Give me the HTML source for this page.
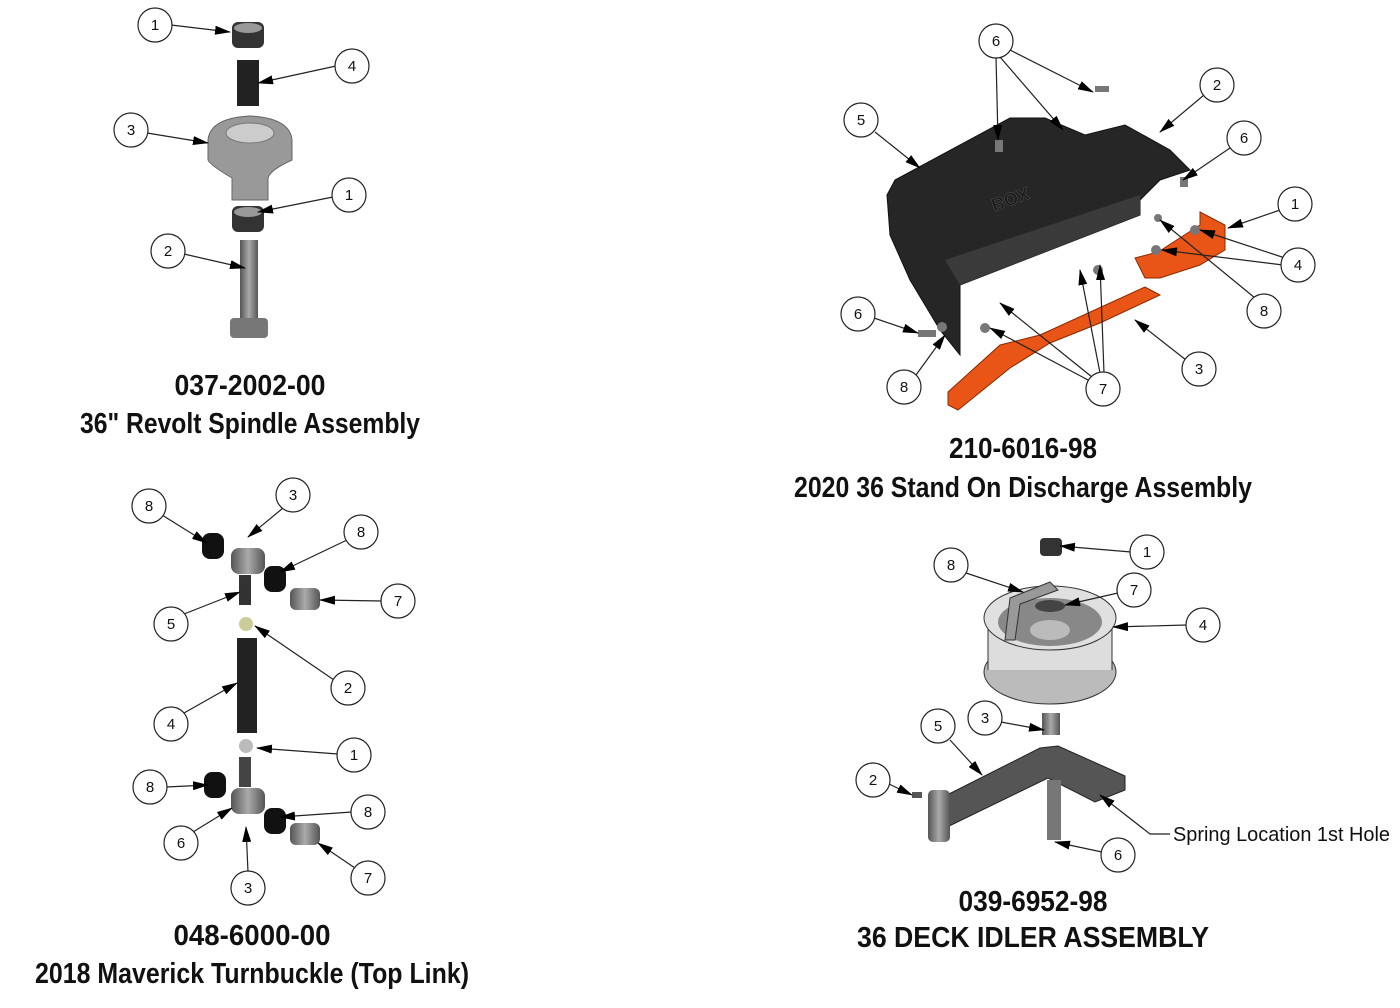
<!DOCTYPE html>
<html><head><meta charset="utf-8"><style>
html,body{margin:0;padding:0;background:#fff;}
svg{display:block}
.t{font-family:"Liberation Sans",sans-serif;font-weight:bold;fill:#111;text-anchor:middle}
.c circle{fill:#fff;stroke:#222;stroke-width:1.2}
.c text{font-family:"Liberation Sans",sans-serif;font-size:15px;text-anchor:middle;fill:#111}
.l{stroke:#222;stroke-width:1.2;fill:none;marker-end:url(#a)}
</style></head><body>
<svg width="1400" height="1008" viewBox="0 0 1400 1008" xmlns="http://www.w3.org/2000/svg">
<defs><marker id="a" markerWidth="16" markerHeight="9" refX="15" refY="4.5" orient="auto" markerUnits="userSpaceOnUse"><path d="M0,0 L16,4.5 L0,9 z" fill="#000"/></marker>
<linearGradient id="g" x1="0" x2="1"><stop offset="0" stop-color="#555"/><stop offset=".5" stop-color="#aaa"/><stop offset="1" stop-color="#555"/></linearGradient></defs>

<!-- Spindle -->
<rect x="232" y="22" width="32" height="26" rx="6" fill="#333"/><ellipse cx="248" cy="28" rx="14" ry="5" fill="#999"/>
<rect x="237" y="60" width="22" height="46" fill="#222"/>
<path d="M208,140 Q210,118 250,116 Q290,118 292,140 L292,160 Q270,170 268,178 L268,200 L232,200 L232,178 Q210,165 208,160z" fill="#999" stroke="#666"/>
<ellipse cx="250" cy="133" rx="24" ry="10" fill="#ccc" stroke="#777"/>
<rect x="232" y="206" width="32" height="26" rx="6" fill="#333"/><ellipse cx="248" cy="212" rx="14" ry="5" fill="#999"/>
<rect x="240" y="240" width="18" height="78" fill="url(#g)"/>
<rect x="230" y="318" width="38" height="20" rx="4" fill="#777"/>
<text class="t" x="250" y="395" font-size="29" textLength="151" lengthAdjust="spacingAndGlyphs">037-2002-00</text>
<text class="t" x="250" y="433" font-size="29" textLength="340" lengthAdjust="spacingAndGlyphs">36" Revolt Spindle Assembly</text>

<!-- Discharge -->
<path d="M887,195 L895,180 L1010,118 L1045,118 L1085,135 L1125,125 L1170,150 L1190,170 L1160,180 L1140,200 L1140,215 L960,285 L960,355 L940,330 L910,280 L890,235z" fill="#262626" stroke="#111"/>
<path d="M945,260 L1140,195 L1140,215 L960,285z" fill="#3a3a3a"/>
<text x="990" y="200" font-family="Liberation Sans" font-weight="bold" font-size="18" fill="#1a1a1a" stroke="#555" stroke-width=".5" transform="rotate(-20 990 200) scale(1,-1) translate(0,-400)">BOX</text>
<path d="M948,392 L1000,345 L1040,335 L1145,287 L1160,295 L1100,323 L1050,343 L1010,368 L958,410 L948,405z" fill="#e85516" stroke="#8a2a00"/>
<path d="M1135,258 L1158,252 L1200,225 L1200,212 L1225,225 L1225,250 L1200,265 L1160,278 L1145,278z" fill="#e85516" stroke="#8a2a00"/>
<g fill="#777"><rect x="995" y="140" width="8" height="12"/><rect x="1180" y="177" width="8" height="10"/><rect x="918" y="330" width="18" height="7"/><circle cx="942" cy="327" r="5"/><circle cx="985" cy="328" r="5"/><circle cx="1098" cy="270" r="5"/><circle cx="1195" cy="230" r="5"/><circle cx="1156" cy="250" r="5"/><circle cx="1158" cy="218" r="4"/><rect x="1095" y="86" width="14" height="6"/></g>
<text class="t" x="1023" y="458" font-size="29" textLength="148" lengthAdjust="spacingAndGlyphs">210-6016-98</text>
<text class="t" x="1023" y="497" font-size="29" textLength="458" lengthAdjust="spacingAndGlyphs">2020 36 Stand On Discharge Assembly</text>

<!-- Turnbuckle -->
<g fill="#111"><rect x="202" y="533" width="22" height="26" rx="8"/><rect x="264" y="566" width="22" height="26" rx="8"/><rect x="204" y="772" width="22" height="26" rx="8"/><rect x="264" y="808" width="22" height="26" rx="8"/></g>
<rect x="231" y="548" width="34" height="26" rx="8" fill="url(#g)"/>
<rect x="290" y="588" width="30" height="22" rx="6" fill="url(#g)"/>
<rect x="239" y="575" width="12" height="30" fill="#333"/>
<circle cx="246" cy="624" r="7" fill="#cc9"/>
<rect x="237" y="638" width="20" height="95" fill="#222"/>
<circle cx="246" cy="746" r="7" fill="#bbb"/>
<rect x="239" y="757" width="12" height="30" fill="#444"/>
<rect x="231" y="788" width="34" height="26" rx="8" fill="url(#g)"/>
<rect x="290" y="823" width="30" height="22" rx="6" fill="url(#g)"/>
<text class="t" x="252" y="945" font-size="29" textLength="157" lengthAdjust="spacingAndGlyphs">048-6000-00</text>
<text class="t" x="252" y="983" font-size="29" textLength="434" lengthAdjust="spacingAndGlyphs">2018 Maverick Turnbuckle (Top Link)</text>

<!-- Idler -->
<ellipse cx="1050" cy="672" rx="66" ry="32" fill="#bbb" stroke="#333"/>
<rect x="988" y="618" width="124" height="52" fill="#ddd"/>
<line x1="988" y1="618" x2="988" y2="670" stroke="#333"/><line x1="1112" y1="618" x2="1112" y2="670" stroke="#333"/>
<ellipse cx="1050" cy="618" rx="66" ry="32" fill="#e0e0e0" stroke="#333"/>
<ellipse cx="1050" cy="622" rx="52" ry="24" fill="#888"/>
<ellipse cx="1050" cy="630" rx="20" ry="10" fill="#bbb"/>
<ellipse cx="1050" cy="606" rx="15" ry="6" fill="#444"/>
<path d="M1005,640 L1010,598 L1050,582 L1058,590 L1020,604 L1015,640z" fill="#999" stroke="#333"/>
<rect x="1040" y="538" width="22" height="18" rx="4" fill="#333"/>
<rect x="1042" y="713" width="18" height="22" fill="url(#g)"/>
<path d="M947,795 L1040,748 L1058,746 L1125,776 L1125,790 L1095,802 L1048,778 L945,828z" fill="#555" stroke="#222"/>
<rect x="928" y="790" width="22" height="52" rx="5" fill="url(#g)"/>
<rect x="1047" y="780" width="14" height="60" fill="#777"/>
<rect x="912" y="792" width="10" height="6" fill="#555"/>
<text class="t" x="1033" y="911" font-size="29" textLength="149" lengthAdjust="spacingAndGlyphs">039-6952-98</text>
<text class="t" x="1033" y="947" font-size="29" textLength="352" lengthAdjust="spacingAndGlyphs">36 DECK IDLER ASSEMBLY</text>
<text x="1173" y="841" font-family="Liberation Sans, sans-serif" font-size="20" fill="#111" textLength="217" lengthAdjust="spacingAndGlyphs">Spring Location 1st Hole</text>

<!-- leader lines -->
<g>
<path class="l" d="M171,25 L230,32"/><path class="l" d="M336,66 L258,83"/><path class="l" d="M147,133 L208,143"/><path class="l" d="M333,197 L258,212"/><path class="l" d="M184,254 L245,268"/>
<path class="l" d="M996,57 L998,140"/><path class="l" d="M1000,57 L1063,130"/><path class="l" d="M1010,50 L1093,92"/><path class="l" d="M1204,95 L1160,132"/><path class="l" d="M875,132 L920,168"/><path class="l" d="M1230,148 L1183,180"/><path class="l" d="M1280,210 L1228,228"/><path class="l" d="M1285,258 L1200,230"/><path class="l" d="M1283,265 L1162,250"/><path class="l" d="M1255,298 L1160,220"/><path class="l" d="M874,318 L918,333"/><path class="l" d="M1186,360 L1135,320"/><path class="l" d="M916,375 L945,335"/><path class="l" d="M1092,377 L1000,303"/><path class="l" d="M1090,381 L990,328"/><path class="l" d="M1100,373 L1080,270"/><path class="l" d="M1104,373 L1100,265"/>
<path class="l" d="M162,515 L207,543"/><path class="l" d="M283,508 L248,537"/><path class="l" d="M347,540 L280,572"/><path class="l" d="M382,601 L320,600"/><path class="l" d="M184,614 L240,592"/><path class="l" d="M334,680 L255,626"/><path class="l" d="M184,713 L237,683"/><path class="l" d="M338,754 L257,748"/><path class="l" d="M166,787 L208,785"/><path class="l" d="M352,812 L280,817"/><path class="l" d="M193,832 L232,808"/><path class="l" d="M248,872 L246,827"/><path class="l" d="M355,868 L318,843"/>
<path class="l" d="M1131,552 L1060,546"/><path class="l" d="M966,573 L1023,592"/><path class="l" d="M1118,593 L1065,605"/><path class="l" d="M1187,625 L1113,627"/><path class="l" d="M1001,722 L1044,730"/><path class="l" d="M950,740 L982,775"/><path class="l" d="M889,784 L912,795"/><path class="l" d="M1102,852 L1055,842"/><path class="l" d="M1170,834 L1150,834 L1100,795"/>
</g>

<!-- callouts -->
<g class="c">
<circle cx="155" cy="25" r="17"/><text x="155" y="30">1</text>
<circle cx="352" cy="66" r="17"/><text x="352" y="71">4</text>
<circle cx="131" cy="130" r="17"/><text x="131" y="135">3</text>
<circle cx="349" cy="195" r="17"/><text x="349" y="200">1</text>
<circle cx="168" cy="251" r="17"/><text x="168" y="256">2</text>
<circle cx="996" cy="41" r="17"/><text x="996" y="46">6</text>
<circle cx="1217" cy="85" r="17"/><text x="1217" y="90">2</text>
<circle cx="861" cy="120" r="17"/><text x="861" y="125">5</text>
<circle cx="1244" cy="138" r="17"/><text x="1244" y="143">6</text>
<circle cx="1295" cy="204" r="17"/><text x="1295" y="209">1</text>
<circle cx="1298" cy="265" r="17"/><text x="1298" y="270">4</text>
<circle cx="1264" cy="311" r="17"/><text x="1264" y="316">8</text>
<circle cx="858" cy="314" r="17"/><text x="858" y="319">6</text>
<circle cx="1199" cy="369" r="17"/><text x="1199" y="374">3</text>
<circle cx="904" cy="387" r="17"/><text x="904" y="392">8</text>
<circle cx="1103" cy="389" r="17"/><text x="1103" y="394">7</text>
<circle cx="149" cy="506" r="17"/><text x="149" y="511">8</text>
<circle cx="293" cy="495" r="17"/><text x="293" y="500">3</text>
<circle cx="361" cy="532" r="17"/><text x="361" y="537">8</text>
<circle cx="398" cy="601" r="17"/><text x="398" y="606">7</text>
<circle cx="171" cy="624" r="17"/><text x="171" y="629">5</text>
<circle cx="348" cy="688" r="17"/><text x="348" y="693">2</text>
<circle cx="171" cy="724" r="17"/><text x="171" y="729">4</text>
<circle cx="354" cy="755" r="17"/><text x="354" y="760">1</text>
<circle cx="150" cy="787" r="17"/><text x="150" y="792">8</text>
<circle cx="368" cy="812" r="17"/><text x="368" y="817">8</text>
<circle cx="181" cy="843" r="17"/><text x="181" y="848">6</text>
<circle cx="248" cy="888" r="17"/><text x="248" y="893">3</text>
<circle cx="368" cy="878" r="17"/><text x="368" y="883">7</text>
<circle cx="1147" cy="552" r="17"/><text x="1147" y="557">1</text>
<circle cx="951" cy="565" r="17"/><text x="951" y="570">8</text>
<circle cx="1134" cy="590" r="17"/><text x="1134" y="595">7</text>
<circle cx="1203" cy="625" r="17"/><text x="1203" y="630">4</text>
<circle cx="985" cy="718" r="17"/><text x="985" y="723">3</text>
<circle cx="938" cy="726" r="17"/><text x="938" y="731">5</text>
<circle cx="873" cy="780" r="17"/><text x="873" y="785">2</text>
<circle cx="1118" cy="855" r="17"/><text x="1118" y="860">6</text>
</g>
</svg>
</body></html>
